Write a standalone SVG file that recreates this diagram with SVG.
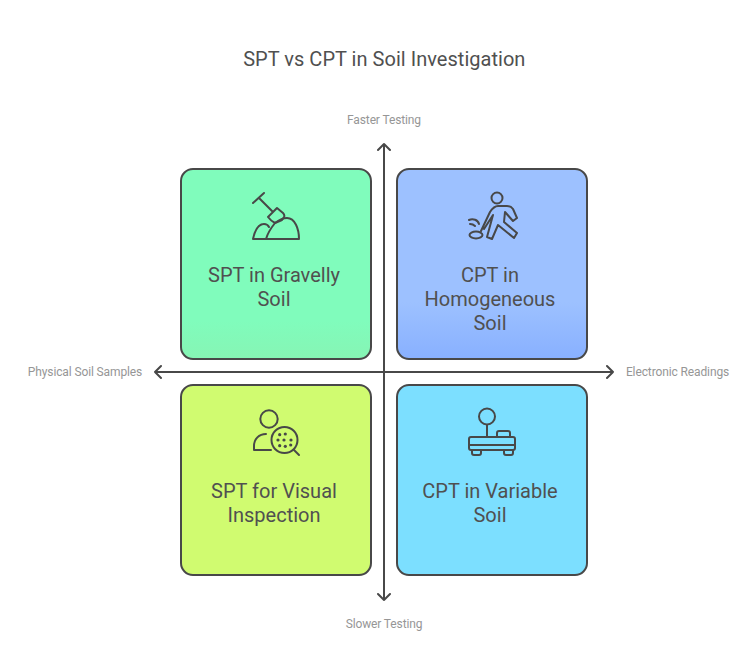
<svg xmlns="http://www.w3.org/2000/svg" width="756" height="645" viewBox="0 0 756 645">
<style>
text{font-family:Roboto,"Liberation Sans",sans-serif;text-anchor:middle}
.t{font-size:20px;fill:#505050}
.title{font-size:20px;fill:#505050;letter-spacing:.03px}
.a{font-size:12px;fill:#969696;letter-spacing:-.12px}
.box{stroke:#484848;stroke-width:2}
.ic{fill:none;stroke:#484848;stroke-width:2;stroke-linecap:round;stroke-linejoin:round}
.ax{fill:none;stroke:#484848;stroke-width:2;stroke-linecap:round;stroke-linejoin:round}
</style>
<defs>
<linearGradient id="g1" x1="0" y1="0" x2="0" y2="1"><stop offset="0.8" stop-color="#80fcbc"/><stop offset="1" stop-color="#86f5b4"/></linearGradient>
<linearGradient id="g2" x1="0" y1="0" x2="0" y2="1"><stop offset="0.7" stop-color="#9dc1ff"/><stop offset="1" stop-color="#88b0ff"/></linearGradient>
</defs>
<rect width="756" height="645" fill="#fff"/>
<text class="title" x="384.300" y="66">SPT vs CPT in Soil Investigation</text>
<g id="connectors">
<path class="ax" d="M384 144V600M378 150L384 144L390 150M378 594L384 600L390 594"/>
<path class="ax" d="M155 372H613M161 366L155 372L161 378M607 366L613 372L607 378"/>
</g>
<g id="axis-labels">
<text class="a" x="384" y="124">Faster Testing</text>
<text class="a" x="384" y="628">Slower Testing</text>
<text class="a" x="85" y="376">Physical Soil Samples</text>
<text class="a" x="677.500" y="376">Electronic Readings</text>
</g>
<g id="node-gravelly">
<rect class="box" x="181" y="169" width="190" height="190" rx="12" fill="url(#g1)"/>
<path class="ic" d="M253 203L264 193M259 198L273 212M268 217L277 208L283 213Q285 215 284 217L282 220L275 223Q271 221 268 217Z"/>
<path class="ic" d="M253 239H299M253 239C255 230 258 224 264 224C266 224 268 225 269 227M266 239C268 232 271 228 275 223C279 220 283 218 287 218C295 218 299 229 299 239"/>
<text class="t" x="274" y="282">SPT in Gravelly</text>
<text class="t" x="274" y="306">Soil</text>
</g>
<g id="node-homogeneous">
<rect class="box" x="397" y="169" width="190" height="190" rx="12" fill="url(#g2)"/>
<circle class="ic" cx="497" cy="198" r="5.500"/>
<path class="ic" d="M481 231L490 212Q494 206 498 206H507Q511 206 513 209L517 218L513 221L505 212L504 222L517 233L514 238L498 225L492 239L487 237L493 215L484 229"/>
<ellipse class="ic" cx="476" cy="235" rx="6.500" ry="3.500"/>
<path class="ic" d="M469 220C473 218 478 220 479 224M470 224C472 224 474 225 475 226"/>
<text class="t" x="490" y="282">CPT in</text>
<text class="t" x="490" y="306">Homogeneous</text>
<text class="t" x="490" y="330">Soil</text>
</g>
<g id="node-visual">
<rect class="box" x="181" y="385" width="190" height="190" rx="12" fill="#d0fb70"/>
<circle class="ic" cx="269" cy="419" r="8.700"/>
<path class="ic" d="M254 450V446C254 439 259 434 266 434M254 450H271"/>
<circle class="ic" cx="284.500" cy="440" r="13"/>
<path class="ic" d="M294 450L299 455"/>
<g fill="#484848"><circle cx="279.700" cy="434.700" r="1.600"/><circle cx="285.300" cy="434" r="1.600"/><circle cx="278" cy="440" r="1.600"/><circle cx="284" cy="440" r="1.600"/><circle cx="291" cy="440" r="1.600"/><circle cx="279.700" cy="445.700" r="1.600"/><circle cx="285.300" cy="446.300" r="1.600"/><circle cx="290.700" cy="445" r="1.600"/></g>
<text class="t" x="274" y="498">SPT for Visual</text>
<text class="t" x="274" y="522">Inspection</text>
</g>
<g id="node-variable">
<rect class="box" x="397" y="385" width="190" height="190" rx="12" fill="#7cdfff"/>
<circle class="ic" cx="487" cy="416.500" r="8"/>
<path class="ic" d="M487 425V437"/>
<rect class="ic" x="469" y="437" width="46" height="13" rx="2"/>
<path class="ic" d="M469 445H515"/>
<path class="ic" d="M497 437V433Q497 431 499 431H508Q510 431 510 433V437"/>
<path class="ic" d="M472 450V453Q472 455 474 455H479Q481 455 481 453V450M504 450V453Q504 455 506 455H511Q513 455 513 453V450"/>
<text class="t" x="490" y="498">CPT in Variable</text>
<text class="t" x="490" y="522">Soil</text>
</g>
</svg>
